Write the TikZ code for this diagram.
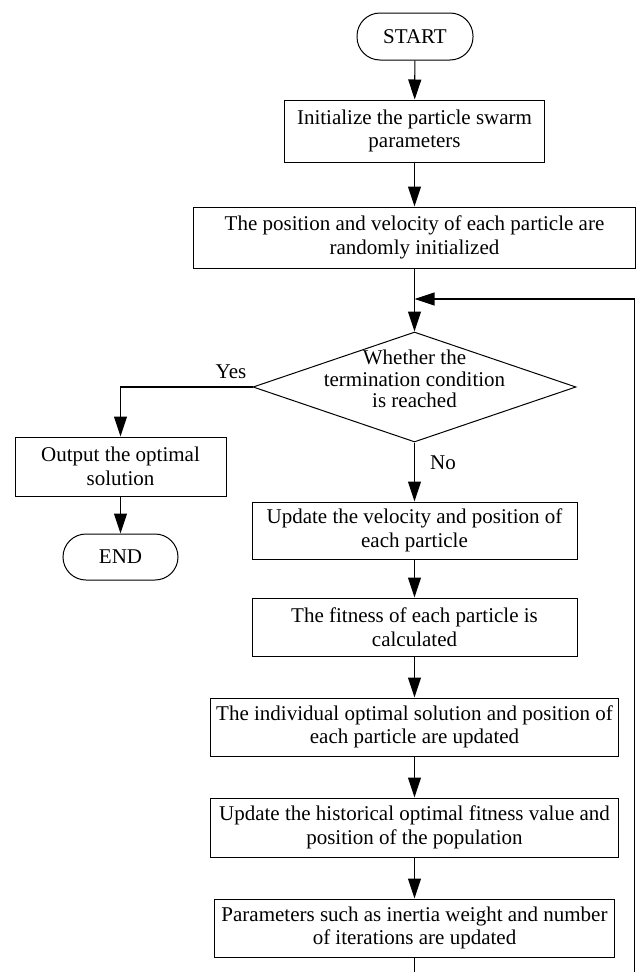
\documentclass[tikz,border=0pt]{standalone}
\usepackage{fontspec}
\setmainfont{Liberation Serif}
\usetikzlibrary{arrows.meta,shapes.geometric}
\begin{document}
\begin{tikzpicture}[x=1pt,y=-1pt,
  every node/.style={font=\fontsize{21}{23.5}\selectfont, text=black},
  proc/.style={draw, line width=1pt, rectangle, align=center, inner sep=0pt},
  term/.style={draw, line width=1pt, rectangle, rounded corners=23pt, inner sep=0pt, align=center},
  decision/.style={draw, line width=1pt, diamond, inner sep=0pt, minimum width=323pt, minimum height=110pt},
  flow/.style={line width=1.1pt, -{Triangle[length=20pt,width=13pt]}}]
\useasboundingbox (0,0) rectangle (636,972);
\clip (0,0) rectangle (636,972);

% terminals and process boxes of the main column
\node[term, minimum width=116pt, minimum height=47pt] (start) at (415,36.5) {START};
\node[proc, minimum width=260pt, minimum height=62pt] (init) at (414.5,131) {Initialize the particle swarm\\parameters};
\node[proc, minimum width=442pt, minimum height=61pt] (rand) at (414.5,237.5) {The position and velocity of each particle are\\randomly initialized};
\node[decision] (cond) at (414.5,387) {};
\node[align=center, font=\fontsize{21}{21.5}\selectfont] (condtext) at (414.5,379) {Whether the\\termination condition\\is reached};
\node[proc, minimum width=325pt, minimum height=57pt] (upd) at (414.5,530.5) {Update the velocity and position of\\each particle};
\node[proc, minimum width=325pt, minimum height=58pt] (fit) at (414.5,627) {The fitness of each particle is\\calculated};
\node[proc, minimum width=408pt, minimum height=58pt] (pbest) at (414.5,727) {The individual optimal solution and position of\\each particle are updated};
\node[proc, minimum width=408pt, minimum height=59pt] (gbest) at (414.5,827.5) {Update the historical optimal fitness value and\\position of the population};
\node[proc, minimum width=400pt, minimum height=58pt] (param) at (414.5,928) {Parameters such as inertia weight and number\\of iterations are updated};

% exit branch
\node[proc, minimum width=211pt, minimum height=59pt] (out) at (120.5,466.5) {Output the optimal\\solution};
\node[term, minimum width=115pt, minimum height=46pt] (end) at (120.5,557) {END};

% branch labels
\node (yes) at (231,372) {Yes};
\node (no) at (443,463) {No};

% loop routing points (the return leg runs below and to the right of the frame)
\coordinate (loopin) at (414.5,299);
\coordinate (loopbl) at (414.5,995);
\coordinate (loopbr) at (634.5,995);
\coordinate (looptr) at (634.5,299);

% connectors
\draw[flow] (start) -- (init);
\draw[flow] (init) -- (rand);
\draw[flow] (rand) -- (cond.north);
\draw[flow] (cond.south) -- (upd.north);
\draw[flow] (upd) -- (fit);
\draw[flow] (fit) -- (pbest);
\draw[flow] (pbest) -- (gbest);
\draw[flow] (gbest) -- (param);
\draw[flow] (cond.west) -| (out.north);
\draw[flow] (out) -- (end);
\draw[flow] (param.south) -- (loopbl) -- (loopbr) -- (looptr) -- (loopin);
\end{tikzpicture}
\end{document}
